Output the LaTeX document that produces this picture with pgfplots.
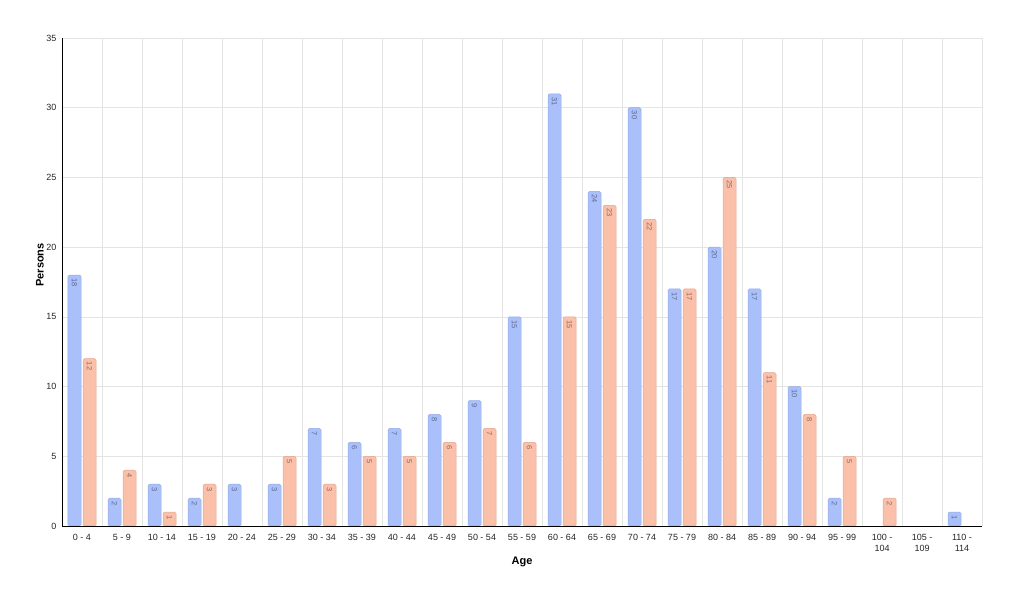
\documentclass[border=0pt]{standalone}
\usepackage{fontspec}
\setmainfont{Liberation Sans}
\usepackage{pgfplots}
\pgfplotsset{compat=1.18}
\definecolor{bluefill}{RGB}{170,192,250}
\definecolor{blueedge}{RGB}{150,170,225}
\definecolor{bluetext}{RGB}{95,105,145}
\definecolor{salfill}{RGB}{251,192,170}
\definecolor{saledge}{RGB}{222,165,145}
\definecolor{saltext}{RGB}{145,105,92}
\definecolor{gridc}{RGB}{228,228,228}
\begin{document}
\begin{tikzpicture}
\useasboundingbox (-62pt,-75pt) rectangle (973pt,526pt);
\begin{axis}[
  at={(0,0)}, anchor=south west,
  scale only axis, width=920pt, height=488pt,
  xmin=-0.5, xmax=22.5, ymin=0, ymax=35,
  ybar=2pt, bar width=13pt,
  axis x line*=bottom, axis y line*=left,
  axis line style={black, line width=0.9pt},
  ytick={0,5,...,35},
  ymajorgrids,
  major grid style={gridc, line width=0.6pt},
  xtick={0,...,22},
  xticklabels={0 - 4,5 - 9,10 - 14,15 - 19,20 - 24,25 - 29,30 - 34,35 - 39,40 - 44,45 - 49,50 - 54,55 - 59,60 - 64,65 - 69,70 - 74,75 - 79,80 - 84,85 - 89,90 - 94,95 - 99,100 -\\104,105 -\\109,110 -\\114},
  minor xtick={-0.5,0.5,...,22.5},
  xminorgrids,
  minor grid style={gridc, line width=0.6pt},
  major tick length=0pt, minor tick length=0pt,
  tick label style={font=\fontsize{9}{10.5}\selectfont, text=black!85},
  xticklabel style={align=center, yshift=-5pt},
  yticklabel style={xshift=-2pt},
  /pgf/number format/assume math mode=true,
  xlabel={Age}, ylabel={Persons},
  label style={font=\fontsize{11}{12}\selectfont\bfseries},
  x label style={at={(axis description cs:0.5,-0.0738)}, anchor=center},
  y label style={at={(axis description cs:-0.0239,0.535)}, anchor=center},
  nodes near coords,
  every node near coord/.append style={rotate=-90, anchor=west, inner sep=3pt, font=\fontsize{7.5}{8}\selectfont},
]
\addplot[fill=bluefill, draw=blueedge, line width=0.5pt, rounded corners=1.5pt,
  every node near coord/.append style={text=bluetext}]
  coordinates {(0,18)(1,2)(2,3)(3,2)(4,3)(5,3)(6,7)(7,6)(8,7)(9,8)(10,9)(11,15)(12,31)(13,24)(14,30)(15,17)(16,20)(17,17)(18,10)(19,2)(22,1)};
\addplot[fill=salfill, draw=saledge, line width=0.5pt, rounded corners=1.5pt,
  every node near coord/.append style={text=saltext}]
  coordinates {(0,12)(1,4)(2,1)(3,3)(5,5)(6,3)(7,5)(8,5)(9,6)(10,7)(11,6)(12,15)(13,23)(14,22)(15,17)(16,25)(17,11)(18,8)(19,5)(20,2)};
\end{axis}
\end{tikzpicture}
\end{document}
